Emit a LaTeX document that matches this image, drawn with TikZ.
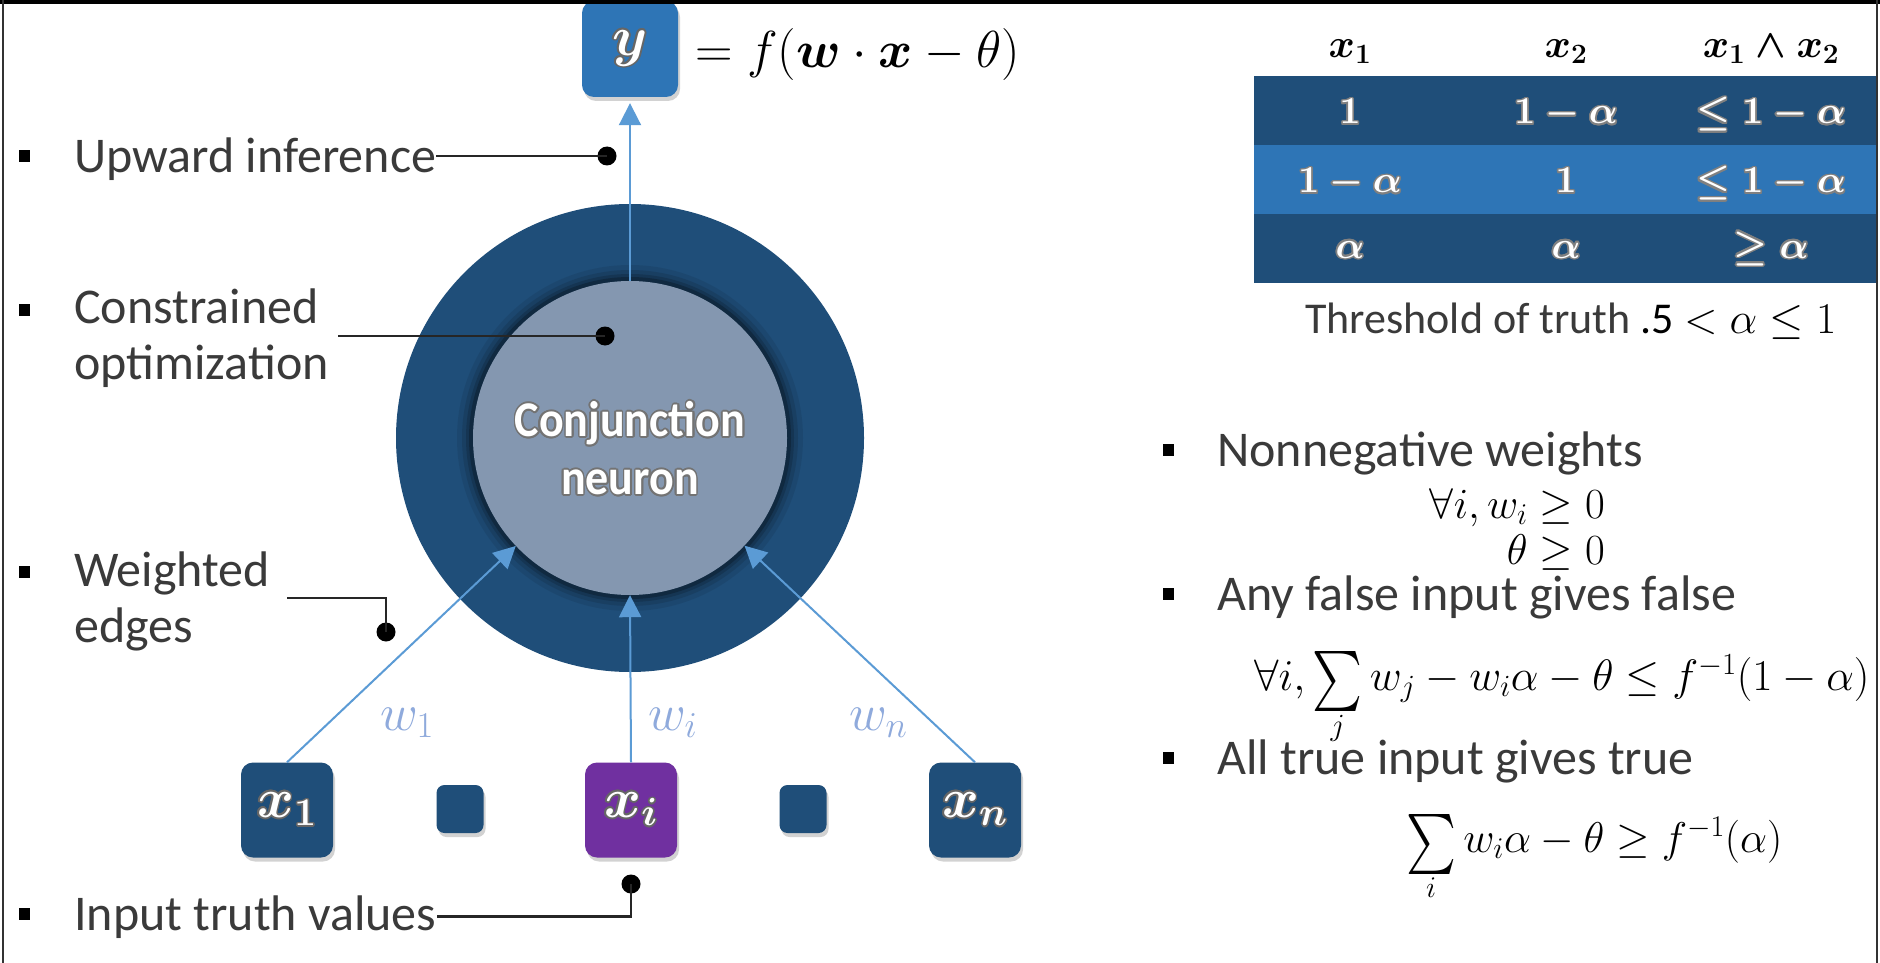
\RequirePackage{fix-cm}
\documentclass[tikz,border=0pt]{standalone}
\usepackage{amsmath}
\usepackage{graphicx}
\usepackage[no-math]{fontspec}
\setmainfont{Carlito}
\newfontfamily\condfont{Carlito}[FakeStretch=0.92]
\usepackage[copies]{contour}
\usetikzlibrary{arrows.meta,shadows,calc}
\definecolor{navy}{HTML}{1F4E79}
\definecolor{midblue}{HTML}{2E75B6}
\definecolor{purp}{HTML}{7030A0}
\definecolor{innerc}{HTML}{8497B0}
\definecolor{arrowc}{HTML}{5B9BD5}
\definecolor{wlab}{HTML}{8FAADC}
\definecolor{txt}{HTML}{3A3A3A}
\contourlength{1.6pt}
\newcommand\bigsumop{\mathop{\raisebox{-18pt}{\resizebox*{50pt}{60pt}{$\sum$}}}\limits}
\tikzset{
  lbl/.style={font=\fontsize{50}{56}\selectfont, text=txt, inner sep=0pt, align=left},
  bul/.style={fill=black, minimum width=11pt, minimum height=12pt, inner sep=0pt},
  dotn/.style={circle, fill=black, minimum size=19pt, inner sep=0pt},
  conn/.style={line width=2.6pt, black!85},
  arr/.style={line width=2pt, arrowc, -{Triangle[length=22pt,width=22pt]}},
  shad/.style={drop shadow={shadow xshift=2pt, shadow yshift=-4pt, opacity=0.35}},
  inbox/.style={rounded corners=12pt, minimum width=92pt, minimum height=95pt, inner sep=0pt, fill=navy, text=white, font=\fontsize{56}{62}\selectfont\boldmath, shad},
  smallbox/.style={rounded corners=8pt, minimum width=47pt, minimum height=48pt, inner sep=0pt, fill=navy, shad},
  rowbar/.style={minimum width=623pt, minimum height=69pt, inner sep=0pt},
  cell/.style={font=\fontsize{38}{44}\selectfont\boldmath, text=white, anchor=base, inner sep=0pt},
  hdr/.style={font=\fontsize{40}{46}\selectfont\boldmath, anchor=base, inner sep=0pt},
  mth/.style={font=\fontsize{43}{50}\selectfont, inner sep=0pt},
  wl/.style={font=\fontsize{52}{58}\selectfont, text=wlab, inner sep=0pt, anchor=base west},
}
\begin{document}
\begin{tikzpicture}[x=1pt,y=-1pt]
\useasboundingbox (0,0) rectangle (1880,963);
\fill[white] (0,0) rectangle (1880,963);

% neuron
\node[circle, fill=navy, minimum size=468pt, inner sep=0pt] (outer) at (630,438) {};
\foreach \r/\o in {173/0.10,168/0.15,164/0.22,161/0.35}{
  \fill[black!75!navy, opacity=\o] (630,438) circle[radius=\r pt];}
\node[circle, fill=innerc, minimum size=314pt, inner sep=0pt] (inner) at (630,438) {};
\node[font=\condfont\bfseries\fontsize{50}{58}\selectfont, text=white, align=center, inner sep=0pt] (neur) at (630,449)
  {\contour{black!55}{Conjunction}\\\contour{black!55}{neuron}};

% output box and equation
\node[inbox, fill=midblue, minimum width=96pt, minimum height=96pt] (ybox) at (630,49) {\contour{black!60}{$y$}};
\node[anchor=base west, inner sep=0pt, font=\fontsize{52}{60}\selectfont] (eq) at (695,68)
  {$=f(\boldsymbol{w}\cdot\boldsymbol{x}-\theta)$};

% inputs
\node[inbox] (x1) at (287,810) {\contour{black!60}{$x_1$}};
\node[smallbox] (s1) at (460,809) {};
\node[inbox, fill=purp] (xi) at (631,810) {\contour{black!60}{$x_i$}};
\node[smallbox] (s2) at (803,809) {};
\node[inbox] (xn) at (975,810) {\contour{black!60}{$x_n$}};

% arrows
\draw[arr, shorten >=6pt] (inner.north) -- (ybox.south);
\draw[arr] (x1.north) -- (inner);
\draw[arr] (xi.north) -- (inner.south);
\draw[arr] (xn.north) -- (inner);

\node[wl] (w1) at (380,730) {$w_1$};
\node[wl] (wi) at (648,730) {$w_i$};
\node[wl] (wn) at (849,730) {$w_n$};

% left labels
\node[bul] (bl1) at (24,156) {};
\node[lbl, anchor=base west] (up) at (74,172) {Upward inference};
\node[dotn] (d1) at (607,156) {};
\draw[conn] (d1.center) -- (d1.center -| up.east);

\node[bul] (bl2) at (24,310) {};
\node[lbl, anchor=west] (con) at (74,338) {Constrained\\optimization};
\node[dotn] (d2) at (605,336) {};
\draw[conn] (d2.center) -- ($(d2.center -| con.east)+(9,0)$);

\node[bul] (bl3) at (24,572) {};
\node[lbl, anchor=west] (wed) at (74,601) {Weighted\\edges};
\node[dotn] (d3) at (386,632) {};
\coordinate (wstart) at ($(wed.east)+(17,-3)$);
\draw[conn] (wstart) -- (wstart -| d3.center) -- (d3.center);

\node[bul] (bl4) at (24,914) {};
\node[lbl, anchor=base west] (itv) at (74,930) {Input truth values};
\node[dotn] (d4) at (631,884) {};
\draw[conn] (d4.center) -- (d4.center |- itv.east) -- (itv.east);

% table
\node[rowbar, fill=navy] (r1) at (1565.5,110.5) {};
\node[rowbar, fill=midblue] (r2) at (1565.5,179.5) {};
\node[rowbar, fill=navy] (r3) at (1565.5,248.5) {};
\node[hdr] (h1) at (1350,58) {$x_1$};
\node[hdr] (h2) at (1566,58) {$x_2$};
\node[hdr] (h3) at (1771,58) {$x_1\wedge x_2$};
\node[cell] (c11) at (1350,124) {\contour{black!50}{$1$}};
\node[cell] (c12) at (1566,124) {\contour{black!50}{$1-\alpha$}};
\node[cell] (c13) at (1771,124) {\contour{black!50}{$\le 1-\alpha$}};
\node[cell] (c21) at (1350,193) {\contour{black!50}{$1-\alpha$}};
\node[cell] (c22) at (1566,193) {\contour{black!50}{$1$}};
\node[cell] (c23) at (1771,193) {\contour{black!50}{$\le 1-\alpha$}};
\node[cell] (c31) at (1350,258) {\contour{black!50}{$\alpha$}};
\node[cell] (c32) at (1566,258) {\contour{black!50}{$\alpha$}};
\node[cell] (c33) at (1771,258) {\contour{black!50}{$\ge \alpha$}};
\node[anchor=base west, font=\fontsize{44}{50}\selectfont, text=txt, inner sep=0pt] (thr) at (1305,333)
  {Threshold of truth {\color{black}.5 $<\alpha\le 1$}};

% right bullets
\node[bul] (br1) at (1168,450) {};
\node[lbl, anchor=base west] (t1) at (1217,466) {Nonnegative weights};
\node[mth, anchor=base east] (f1a) at (1605,518) {$\forall i, w_i \ge 0$};
\node[mth, anchor=base east] (f1b) at (1605,564) {$\theta \ge 0$};
\node[bul] (br2) at (1168,594) {};
\node[lbl, anchor=base west] (t2) at (1217,610) {Any false input gives false};
\node[mth, anchor=base west, font=\fontsize{44}{50}\selectfont] (f2) at (1254,690)
  {$\forall i,\bigsumop_j w_j - w_i\alpha - \theta \le f^{-1}(1-\alpha)$};
\node[bul] (br3) at (1168,758) {};
\node[lbl, anchor=base west] (t3) at (1217,774) {All true input gives true};
\node[mth, anchor=base west] (f3) at (1406,852)
  {$\bigsumop_i w_i\alpha - \theta \ge f^{-1}(\alpha)$};

% frame
\fill[black] (0,0) rectangle (1880,4);
\draw[black!80, line width=2pt] (3,0) -- (3,963);
\draw[black!80, line width=2pt] (1877,0) -- (1877,963);
\end{tikzpicture}
\end{document}
